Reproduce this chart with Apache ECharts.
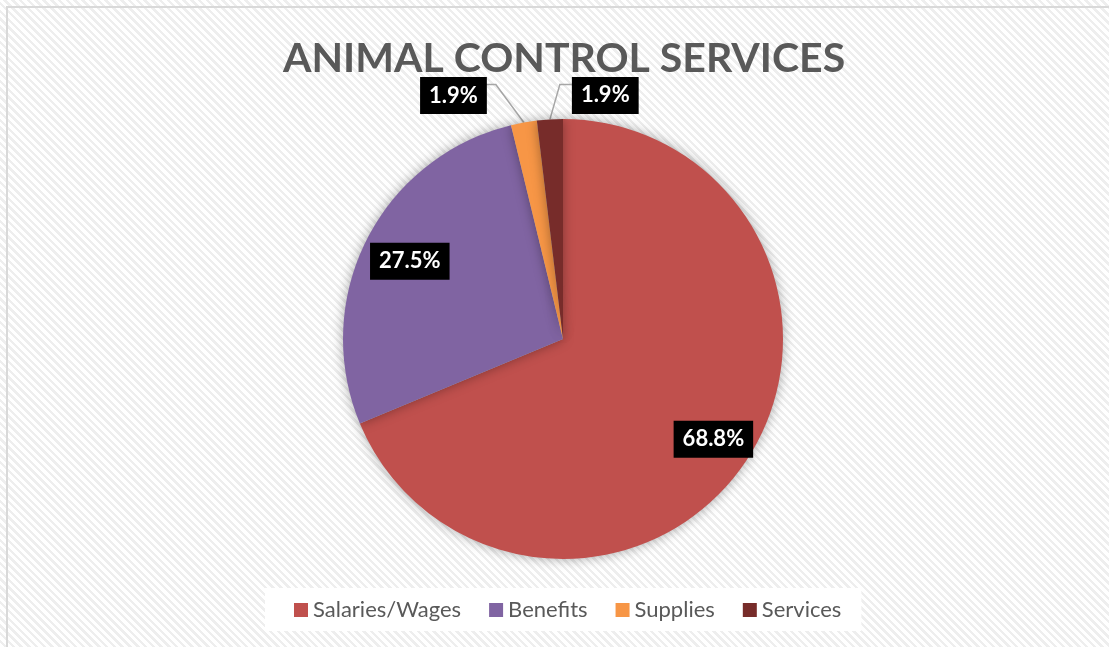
<!DOCTYPE html>
<html>
<head>
<meta charset="utf-8">
<script src="https://cdn.jsdelivr.net/npm/echarts@6/dist/echarts.min.js"></script>
<style>
  html, body { margin: 0; padding: 0; width: 1109px; height: 647px; overflow: hidden; }
  body {
    background: #ffffff repeating-linear-gradient(45deg, #ffffff 0px, #ffffff 3px, #eeeeee 3px, #eeeeee 5.5px);
  }
  #frame { position: absolute; left: 6px; top: 6px; width: 1200px; height: 700px;
    border-left: 2px solid #d9d9d9; border-top: 2px solid #d9d9d9; }
  #chart { position: absolute; left: 0; top: 0; width: 1109px; height: 647px; }
</style>
</head>
<body>
<div id="frame"></div>
<div id="chart"></div>
<script>
const titleText = 'ANIMAL CONTROL SERVICES';
const categories = ['Salaries/Wages', 'Benefits', 'Supplies', 'Services'];
const percentValues = [68.8, 27.5, 1.9, 1.9];
const sliceColors = ['#C0504D', '#8064A2', '#F79646', '#772C2A'];

const CENTER = [563, 339];
const RADIUS = 220;
const FONT = 'Lato, "Open Sans", sans-serif';
const INSIDE_SCALE = [1.6, 1.52];

const chart = echarts.init(document.getElementById('chart'), null, { renderer: 'canvas' });

const data = categories.map((name, i) => {
  const small = percentValues[i] < 5;
  return {
    name: name,
    value: percentValues[i],
    itemStyle: { color: sliceColors[i] },
    label: { position: small ? 'outside' : 'inside' },
    labelLine: { show: small }
  };
});

chart.setOption({
  backgroundColor: 'transparent',
  animation: false,
  title: {
    text: titleText,
    left: 278,
    top: 33,
    textStyle: { fontFamily: FONT, fontWeight: 'bold', fontSize: 41, color: '#595959' }
  },
  legend: {
    data: categories,
    left: 265,
    top: 588,
    backgroundColor: '#ffffff',
    padding: [11, 20, 10, 29],
    itemWidth: 14,
    itemHeight: 14,
    itemGap: 28,
    icon: 'rect',
    textStyle: { fontFamily: FONT, fontSize: 22, color: '#595959', lineHeight: 22 }
  },
  series: [{
    type: 'pie',
    center: CENTER,
    radius: [0, RADIUS],
    startAngle: 90,
    clockwise: true,
    avoidLabelOverlap: false,
    data: data,
    itemStyle: { shadowBlur: 12, shadowColor: 'rgba(0,0,0,0.35)' },
    label: {
      show: true,
      formatter: p => p.value.toFixed(1) + '%',
      fontFamily: FONT,
      fontWeight: 'bold',
      fontSize: 22,
      lineHeight: 24,
      color: '#ffffff',
      backgroundColor: '#000000',
      padding: [7, 9, 6, 9]
    },
    labelLine: { lineStyle: { color: '#a6a6a6', width: 1.5 }, length: 30, length2: 10 },
    labelLayout: function (p) {
      const i = p.dataIndex;
      const cx = CENTER[0], cy = CENTER[1];
      if (percentValues[i] >= 5) {
        const lx = p.labelRect.x + p.labelRect.width / 2;
        const ly = p.labelRect.y + p.labelRect.height / 2;
        const s = INSIDE_SCALE[i];
        return { x: cx + (lx - cx) * s, y: cy + (ly - cy) * s, align: 'center', verticalAlign: 'middle' };
      }
      const p0 = p.labelLinePoints[0];
      let p1, p2, align;
      if (i === 2) {
        p1 = [p0[0] - 28, p0[1] - 38];
        p2 = [p1[0] - 11, p1[1]];
        align = 'right';
      } else {
        p1 = [p0[0] + 10, p0[1] - 35];
        p2 = [p1[0] + 12, p1[1]];
        align = 'left';
      }
      return { x: p2[0] + (i === 2 ? 2 : 0), y: p2[1] + 11, align: align, verticalAlign: 'middle', labelLinePoints: [p0, p1, p2] };
    }
  }]
});
</script>
</body>
</html>
